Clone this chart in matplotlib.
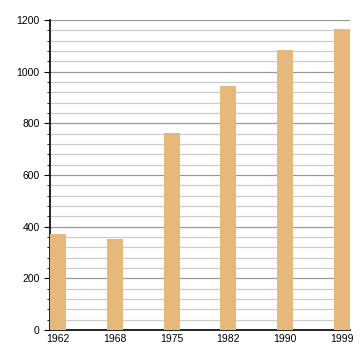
import matplotlib.pyplot as plt
from matplotlib.ticker import MultipleLocator

years = ['1962', '1968', '1975', '1982', '1990', '1999']
population = [372, 353, 763, 945, 1084, 1164]

plt.rcParams['font.family'] = ['Liberation Sans', 'DejaVu Sans']

fig = plt.figure(figsize=(3.6, 3.6), dpi=100)
ax = fig.add_axes([50 / 360, 30 / 360, 300 / 360, 310 / 360])

x = range(len(years))
ax.bar(x, population, width=0.28, color='#e6b87c', zorder=3)

ax.set_xlim(-0.14, len(years) - 1 + 0.14)
ax.set_ylim(0, 1200)
ax.yaxis.set_major_locator(MultipleLocator(200))
ax.yaxis.set_minor_locator(MultipleLocator(40))
ax.grid(axis='y', which='major', color='#999999', linewidth=0.9, zorder=0)
ax.grid(axis='y', which='minor', color='#cccccc', linewidth=0.9, zorder=0)

ax.set_xticks(list(x))
ax.set_xticklabels(years)
ax.tick_params(axis='x', length=0, labelsize=7.5, pad=3)
ax.tick_params(axis='y', which='major', length=4, labelsize=7.5, color='black')
ax.tick_params(axis='y', which='minor', length=2.5, color='black')

for side in ['top', 'right']:
    ax.spines[side].set_visible(False)
ax.spines['left'].set_linewidth(1.2)
ax.spines['bottom'].set_linewidth(1.2)

fig.savefig('out.png', dpi=100)
